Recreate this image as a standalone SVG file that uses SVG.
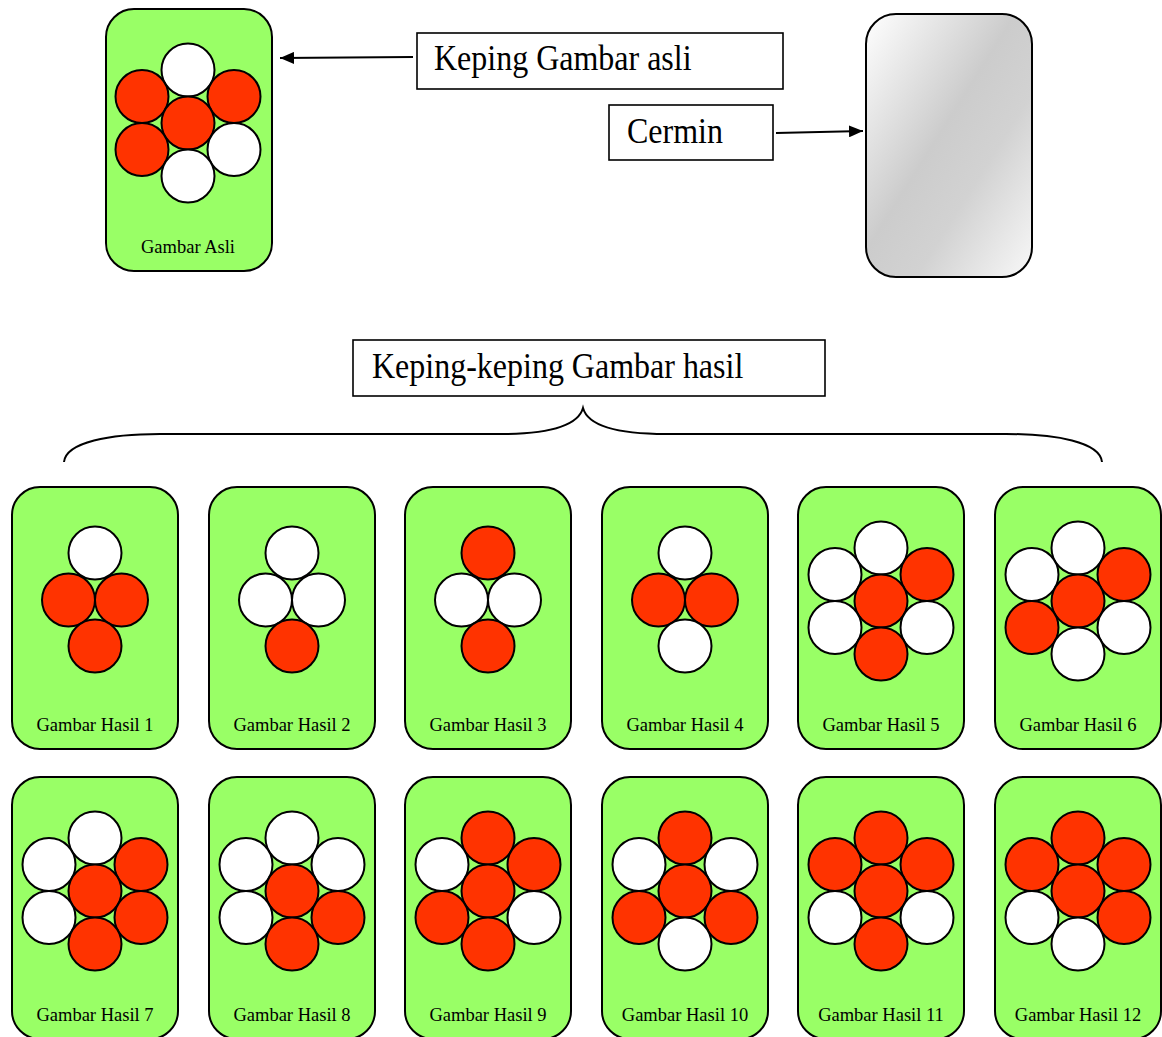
<svg xmlns="http://www.w3.org/2000/svg" width="1162" height="1037" viewBox="0 0 1162 1037">
<style>
.card{fill:#99FF66;stroke:#000;stroke-width:2}
.r{fill:#FF3300;stroke:#000;stroke-width:2}
.w{fill:#FFFFFF;stroke:#000;stroke-width:2}
.lbl{font-family:"Liberation Serif","Times New Roman",serif;font-size:18.5px;fill:#000;text-anchor:middle}
.big{font-family:"Liberation Serif","Times New Roman",serif;font-size:32px;fill:#000}
.box{fill:#fff;stroke:#000;stroke-width:1.6}
.conn{fill:none;stroke:#000;stroke-width:2}
</style>
<defs>
<marker id="ah" markerUnits="userSpaceOnUse" markerWidth="14" markerHeight="12" refX="14" refY="6" orient="auto">
<path d="M0,0 L14,6 L0,12 z" fill="#000"/>
</marker>
<linearGradient id="mirror" x1="0" y1="0" x2="1" y2="1">
<stop offset="0" stop-color="#ffffff"/>
<stop offset="0.45" stop-color="#cccccc"/>
<stop offset="0.65" stop-color="#d2d2d2"/>
<stop offset="1" stop-color="#f8f8f8"/>
</linearGradient>
</defs>
<rect width="1162" height="1037" fill="#fff"/>

<g id="gambar-asli">
<rect class="card" x="106" y="9" width="166" height="262" rx="28"/>
<circle class="w" cx="188" cy="70" r="26.5"/>
<circle class="r" cx="142" cy="96.5" r="26.5"/>
<circle class="r" cx="234" cy="96.5" r="26.5"/>
<circle class="r" cx="188" cy="123" r="26.5"/>
<circle class="r" cx="142" cy="149.5" r="26.5"/>
<circle class="w" cx="234" cy="149.5" r="26.5"/>
<circle class="w" cx="188" cy="176" r="26.5"/>
<text class="lbl" x="188" y="253">Gambar Asli</text>
</g>

<g id="label-keping-asli">
<rect class="box" x="417" y="33" width="366" height="56"/>
<text class="big" transform="translate(434,70) scale(1,1.15)">Keping Gambar asli</text>
</g>

<g id="label-cermin">
<rect class="box" x="609" y="105" width="164" height="55"/>
<text class="big" transform="translate(627,143) scale(1,1.15)">Cermin</text>
</g>

<g id="cermin">
<rect x="866" y="14" width="166" height="263" rx="30" fill="url(#mirror)" stroke="#000" stroke-width="2"/>
</g>

<g id="label-hasil">
<rect class="box" x="353" y="340" width="472" height="56"/>
<text class="big" transform="translate(372,378) scale(1,1.15)">Keping-keping Gambar hasil</text>
</g>

<g id="connectors">
<line class="conn" x1="413" y1="57" x2="280" y2="58" marker-end="url(#ah)"/>
<line class="conn" x1="776" y1="133" x2="863" y2="131" marker-end="url(#ah)"/>
<path class="conn" d="M64,462 C66,442 110,434 160,434 L500,434 C550,434 578,426 583,408 C588,426 616,434 666,434 L1006,434 C1056,434 1100,442 1102,462"/>
</g>

<g id="hasil-1">
<rect class="card" x="12" y="487" width="166" height="262" rx="28"/>
<circle class="w" cx="95" cy="553" r="26.5"/>
<circle class="r" cx="68.5" cy="600" r="26.5"/>
<circle class="r" cx="121.5" cy="600" r="26.5"/>
<circle class="r" cx="95" cy="646" r="26.5"/>
<text class="lbl" x="95" y="731">Gambar Hasil 1</text>
</g>

<g id="hasil-2">
<rect class="card" x="209" y="487" width="166" height="262" rx="28"/>
<circle class="w" cx="292" cy="553" r="26.5"/>
<circle class="w" cx="265.5" cy="600" r="26.5"/>
<circle class="w" cx="318.5" cy="600" r="26.5"/>
<circle class="r" cx="292" cy="646" r="26.5"/>
<text class="lbl" x="292" y="731">Gambar Hasil 2</text>
</g>

<g id="hasil-3">
<rect class="card" x="405" y="487" width="166" height="262" rx="28"/>
<circle class="r" cx="488" cy="553" r="26.5"/>
<circle class="w" cx="461.5" cy="600" r="26.5"/>
<circle class="w" cx="514.5" cy="600" r="26.5"/>
<circle class="r" cx="488" cy="646" r="26.5"/>
<text class="lbl" x="488" y="731">Gambar Hasil 3</text>
</g>

<g id="hasil-4">
<rect class="card" x="602" y="487" width="166" height="262" rx="28"/>
<circle class="w" cx="685" cy="553" r="26.5"/>
<circle class="r" cx="658.5" cy="600" r="26.5"/>
<circle class="r" cx="711.5" cy="600" r="26.5"/>
<circle class="w" cx="685" cy="646" r="26.5"/>
<text class="lbl" x="685" y="731">Gambar Hasil 4</text>
</g>

<g id="hasil-5">
<rect class="card" x="798" y="487" width="166" height="262" rx="28"/>
<circle class="w" cx="881" cy="548" r="26.5"/>
<circle class="w" cx="835" cy="574.5" r="26.5"/>
<circle class="r" cx="927" cy="574.5" r="26.5"/>
<circle class="r" cx="881" cy="601" r="26.5"/>
<circle class="w" cx="835" cy="627.5" r="26.5"/>
<circle class="w" cx="927" cy="627.5" r="26.5"/>
<circle class="r" cx="881" cy="654" r="26.5"/>
<text class="lbl" x="881" y="731">Gambar Hasil 5</text>
</g>

<g id="hasil-6">
<rect class="card" x="995" y="487" width="166" height="262" rx="28"/>
<circle class="w" cx="1078" cy="548" r="26.5"/>
<circle class="w" cx="1032" cy="574.5" r="26.5"/>
<circle class="r" cx="1124" cy="574.5" r="26.5"/>
<circle class="r" cx="1078" cy="601" r="26.5"/>
<circle class="r" cx="1032" cy="627.5" r="26.5"/>
<circle class="w" cx="1124" cy="627.5" r="26.5"/>
<circle class="w" cx="1078" cy="654" r="26.5"/>
<text class="lbl" x="1078" y="731">Gambar Hasil 6</text>
</g>

<g id="hasil-7">
<rect class="card" x="12" y="777" width="166" height="262" rx="28"/>
<circle class="w" cx="95" cy="838" r="26.5"/>
<circle class="w" cx="49" cy="864.5" r="26.5"/>
<circle class="r" cx="141" cy="864.5" r="26.5"/>
<circle class="r" cx="95" cy="891" r="26.5"/>
<circle class="w" cx="49" cy="917.5" r="26.5"/>
<circle class="r" cx="141" cy="917.5" r="26.5"/>
<circle class="r" cx="95" cy="944" r="26.5"/>
<text class="lbl" x="95" y="1021">Gambar Hasil 7</text>
</g>

<g id="hasil-8">
<rect class="card" x="209" y="777" width="166" height="262" rx="28"/>
<circle class="w" cx="292" cy="838" r="26.5"/>
<circle class="w" cx="246" cy="864.5" r="26.5"/>
<circle class="w" cx="338" cy="864.5" r="26.5"/>
<circle class="r" cx="292" cy="891" r="26.5"/>
<circle class="w" cx="246" cy="917.5" r="26.5"/>
<circle class="r" cx="338" cy="917.5" r="26.5"/>
<circle class="r" cx="292" cy="944" r="26.5"/>
<text class="lbl" x="292" y="1021">Gambar Hasil 8</text>
</g>

<g id="hasil-9">
<rect class="card" x="405" y="777" width="166" height="262" rx="28"/>
<circle class="r" cx="488" cy="838" r="26.5"/>
<circle class="w" cx="442" cy="864.5" r="26.5"/>
<circle class="r" cx="534" cy="864.5" r="26.5"/>
<circle class="r" cx="488" cy="891" r="26.5"/>
<circle class="r" cx="442" cy="917.5" r="26.5"/>
<circle class="w" cx="534" cy="917.5" r="26.5"/>
<circle class="r" cx="488" cy="944" r="26.5"/>
<text class="lbl" x="488" y="1021">Gambar Hasil 9</text>
</g>

<g id="hasil-10">
<rect class="card" x="602" y="777" width="166" height="262" rx="28"/>
<circle class="r" cx="685" cy="838" r="26.5"/>
<circle class="w" cx="639" cy="864.5" r="26.5"/>
<circle class="w" cx="731" cy="864.5" r="26.5"/>
<circle class="r" cx="685" cy="891" r="26.5"/>
<circle class="r" cx="639" cy="917.5" r="26.5"/>
<circle class="r" cx="731" cy="917.5" r="26.5"/>
<circle class="w" cx="685" cy="944" r="26.5"/>
<text class="lbl" x="685" y="1021">Gambar Hasil 10</text>
</g>

<g id="hasil-11">
<rect class="card" x="798" y="777" width="166" height="262" rx="28"/>
<circle class="r" cx="881" cy="838" r="26.5"/>
<circle class="r" cx="835" cy="864.5" r="26.5"/>
<circle class="r" cx="927" cy="864.5" r="26.5"/>
<circle class="r" cx="881" cy="891" r="26.5"/>
<circle class="w" cx="835" cy="917.5" r="26.5"/>
<circle class="w" cx="927" cy="917.5" r="26.5"/>
<circle class="r" cx="881" cy="944" r="26.5"/>
<text class="lbl" x="881" y="1021">Gambar Hasil 11</text>
</g>

<g id="hasil-12">
<rect class="card" x="995" y="777" width="166" height="262" rx="28"/>
<circle class="r" cx="1078" cy="838" r="26.5"/>
<circle class="r" cx="1032" cy="864.5" r="26.5"/>
<circle class="r" cx="1124" cy="864.5" r="26.5"/>
<circle class="r" cx="1078" cy="891" r="26.5"/>
<circle class="w" cx="1032" cy="917.5" r="26.5"/>
<circle class="r" cx="1124" cy="917.5" r="26.5"/>
<circle class="w" cx="1078" cy="944" r="26.5"/>
<text class="lbl" x="1078" y="1021">Gambar Hasil 12</text>
</g>
</svg>
